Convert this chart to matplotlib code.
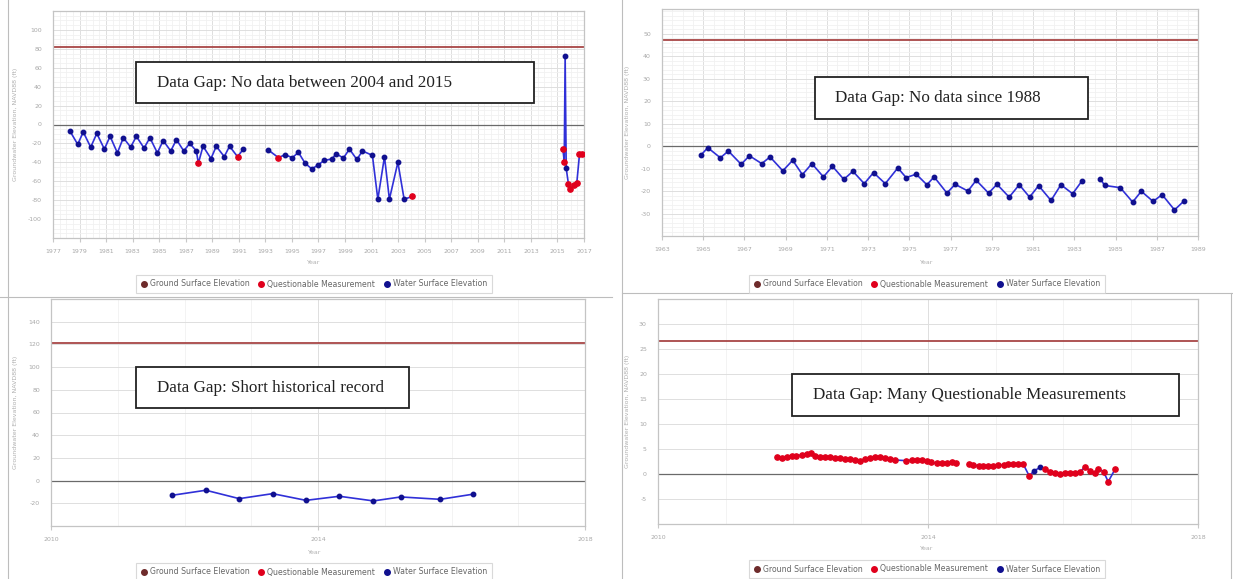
import matplotlib.pyplot as plt
from matplotlib.lines import Line2D
from matplotlib.patches import Rectangle
import numpy as np

plt.rcParams['axes.unicode_minus'] = False

# ---- top-left well: no data between 2004 and 2015 ----
p1_years = [1978.28, 1978.86, 1979.28, 1979.84, 1980.30, 1980.87, 1981.30, 1981.85, 1982.30, 1982.85,
            1983.28, 1983.86, 1984.30, 1984.86, 1985.30, 1985.87, 1986.30, 1986.85, 1987.30, 1987.80,
            1987.95, 1988.30, 1988.90, 1989.30, 1989.90, 1990.30, 1990.90, 1991.34, None,
            1993.22, 1993.98, 1994.48, 1995.03, 1995.49, 1995.99, 1996.50, 1997.00, 1997.42, 1998.00,
            1998.33, 1998.88, 1999.33, 1999.89, 2000.31, 2001.06, 2001.47, 2001.97, 2002.34, 2002.98,
            2003.45, 2004.08, None,
            2015.41, 2015.51, 2015.58, 2015.66, 2015.83, 2015.96, 2016.21, 2016.46, 2016.66, 2016.84]
p1_levels = [-7, -21, -8, -24, -9.5, -26, -12.5, -30, -14, -24,
             -12.5, -25, -14, -30, -17, -28, -16, -28, -20, -28,
             -41, -23, -36, -23, -34, -23, -34, -26, None,
             -27, -35, -32, -35, -29.5, -41, -47, -42.5, -38, -36.5,
             -31, -35.4, -26, -37, -28, -32.6, -79, -34, -79, -40,
             -79, -76, None,
             -25.6, -39.3, 71.9, -46.3, -63.2, -68.4, -63.9, -61.4, -31.6, -31.6]
# W = water surface elevation, Q = questionable measurement, - = gap
p1_quality = ('WWWWWWWWWWWWWWWWWWWWQWWWWWQW' + '-' +
              'WQWWWWWWWWWWWWWWWWWWWQ' + '-' +
              'QQWWQQQQQQ')
p1_ground = 82

# ---- top-right well: no data since 1988 ----
p2_years = [1964.89, 1965.22, 1965.83, 1966.22, 1966.84, 1967.24, 1967.84, 1968.24, 1968.86, 1969.34,
            1969.81, 1970.27, 1970.83, 1971.27, 1971.82, 1972.26, 1972.81, 1973.26, 1973.83, 1974.44,
            1974.84, 1975.33, 1975.85, 1976.20, 1976.82, 1977.22, 1977.84, 1978.24, 1978.84, 1979.25,
            1979.84, 1980.33, 1980.83, 1981.27, 1981.87, 1982.35, 1982.92, 1983.37, None,
            1984.26, 1984.47, 1985.23, 1985.83, 1986.25, 1986.82, 1987.26, 1987.86, 1988.30]
p2_levels = [-4.0, -0.7, -5.2, -2.2, -8.1, -4.3, -7.8, -4.8, -11.0, -6.3,
             -12.7, -7.8, -13.7, -9.0, -14.8, -11.2, -16.7, -11.8, -16.7, -9.7,
             -14.0, -12.5, -17.2, -13.7, -20.9, -17.0, -20.0, -15.2, -20.9, -17.0,
             -22.7, -17.2, -22.7, -17.6, -24.2, -17.2, -21.2, -15.5, None,
             -14.5, -17.5, -18.5, -24.9, -20.1, -24.6, -21.6, -28.4, -24.6]
p2_quality = None
p2_ground = 47

# ---- bottom-left well: short historical record ----
p3_years = [2011.82, 2012.32, 2012.82, 2013.32, 2013.82, 2014.32, 2014.83, 2015.24, 2015.83, 2016.32]
p3_levels = [-12.9, -8.5, -15.9, -11.5, -17.4, -13.8, -17.9, -14.4, -16.5, -12.0]
p3_quality = None
p3_ground = 121

# ---- bottom-right well: many questionable measurements ----
p4_years = [2011.76, 2011.83, 2011.91, 2011.98, 2012.05, 2012.13, 2012.20, 2012.26, 2012.33, 2012.40,
            2012.47, 2012.55, 2012.62, 2012.70, 2012.77, 2012.84, 2012.92, 2012.99, 2013.07, 2013.14,
            2013.21, 2013.29, 2013.36, 2013.44, 2013.51, 2013.68, 2013.76, 2013.83, 2013.91, 2013.98,
            2014.05, 2014.13, 2014.20, 2014.28, 2014.35, 2014.42, None,
            2014.60, 2014.67, 2014.75, 2014.82, 2014.89, 2014.97, 2015.04, 2015.12, 2015.19, 2015.26,
            2015.34, 2015.41, 2015.50, 2015.57, 2015.66, 2015.73, 2015.81, 2015.88, 2015.96, 2016.03,
            2016.10, 2016.18, 2016.25, 2016.33, 2016.40, 2016.47, 2016.52, 2016.60, 2016.67, 2016.77]
p4_levels = [3.47, 3.27, 3.33, 3.53, 3.67, 3.8, 3.93, 4.13, 3.6, 3.47,
             3.47, 3.33, 3.27, 3.13, 3.0, 2.93, 2.8, 2.67, 3.0, 3.13,
             3.33, 3.47, 3.27, 3.0, 2.8, 2.67, 2.8, 2.8, 2.73, 2.6,
             2.33, 2.13, 2.13, 2.27, 2.4, 2.13, None,
             2.0, 1.8, 1.67, 1.6, 1.6, 1.67, 1.73, 1.8, 1.93, 2.0,
             2.0, 2.0, -0.4, 0.6, 1.33, 0.93, 0.47, 0.27, -0.07, 0.13,
             0.27, 0.27, 0.4, 1.47, 0.67, 0.27, 1.07, 0.47, -1.53, 0.93]
p4_quality = ('QQQQQQQQQQQQQQQQQQQQQQQQQQQQQQQQQQQQ' + '-' +
              'QQQQQQQQQQQQQ' + 'WW' + 'QQQQQQQQQQQQQQQ')
p4_ground = 26.6

legend_labels = ['Ground Surface Elevation', 'Questionable Measurement', 'Water Surface Elevation']
notes = ['Data Gap: No data between 2004 and 2015',
         'Data Gap: No data since 1988',
         'Data Gap: Short historical record',
         'Data Gap: Many Questionable Measurements']

W, H = 1233, 579
fig = plt.figure(figsize=(W / 100, H / 100), dpi=100)

line_blue = '#3030d8'
dot_blue = '#10108f'
q_red = '#e0001c'
ground_red = '#a84646'
gse_dot = '#6e2b2b'


def fx(x):
    return x / W


def fy(y):
    return 1 - y / H


def panel(box, years, levels, quality, ground, ylim, yticks, yminor,
          xlim, xticks, xlabels, xminor, note, note_box, note_x,
          year_xy, legend_xy, ylabel_x):
    l, t, r, b = box
    ax = fig.add_axes([fx(l), fy(b), fx(r - l), (b - t) / H])
    yrs = np.array([np.nan if v is None else v for v in years], dtype=float)
    lv = np.array([np.nan if v is None else v for v in levels], dtype=float)
    if quality is None:
        quality = ''.join('-' if v is None else 'W' for v in years)
    assert len(quality) == len(yrs)
    q = np.array(list(quality))

    ax.axhline(ground, color=ground_red, lw=1.3, zorder=2)
    ax.axhline(0, color='#6a6a6a', lw=0.9, zorder=2)
    ax.plot(yrs, lv, color=line_blue, lw=1.2, zorder=3)
    ax.plot(yrs[q == 'W'], lv[q == 'W'], 'o', ms=3.2, color=dot_blue, zorder=4)
    ax.plot(yrs[q == 'Q'], lv[q == 'Q'], 'o', ms=3.8, color=q_red, zorder=5)

    ax.set_xlim(*xlim)
    ax.set_ylim(*ylim)
    ax.set_yticks(yticks)
    ax.set_yticks(yminor, minor=True)
    ax.set_xticks(xticks)
    ax.set_xticklabels(xlabels)
    ax.set_xticks(xminor, minor=True)
    ax.grid(which='minor', color='#f1f1f1', lw=0.6)
    ax.grid(which='major', color='#dedede', lw=0.7)
    ax.set_axisbelow(True)
    ax.tick_params(axis='y', which='both', length=0, pad=8, labelsize=4.5, labelcolor='#a8a8a8')
    ax.tick_params(axis='x', which='major', length=3, color='#c8c8c8', pad=5,
                   labelsize=4.5, labelcolor='#a8a8a8')
    ax.tick_params(axis='x', which='minor', length=0)
    for s in ax.spines.values():
        s.set_color('#c4c4c4')
        s.set_linewidth(0.9)

    fig.text(fx(ylabel_x), fy((t + b) / 2), 'Groundwater Elevation, NAVD88 (ft)', rotation=90,
             ha='center', va='center', fontsize=4.5, color='#b0b0b0')
    fig.text(fx(year_xy[0]), fy(year_xy[1]), 'Year', ha='center', va='center',
             fontsize=4.5, color='#b0b0b0')

    # the annotation box drawn over the chart
    bl, bt, br, bb = note_box
    fig.patches.append(Rectangle((fx(bl), fy(bb)), fx(br - bl), (bb - bt) / H,
                                 transform=fig.transFigure, facecolor='white',
                                 edgecolor='#222222', lw=1.3, zorder=10))
    fig.text(fx(note_x), fy((bt + bb) / 2), note, ha='left', va='center',
             family='Liberation Serif', fontsize=12.3, color='#222222', zorder=11)

    handles = [Line2D([], [], marker='o', ls='', ms=4, color=c)
               for c in [gse_dot, q_red, dot_blue]]
    lg = fig.legend(handles, legend_labels, loc='center', ncol=3,
                    bbox_to_anchor=(fx(legend_xy[0]), fy(legend_xy[1])),
                    fontsize=5.6, frameon=True, fancybox=False, edgecolor='#d0d0d0',
                    handlelength=0.8, handletextpad=0.35, columnspacing=1.1,
                    borderpad=0.6, labelcolor='#666666')
    lg.get_frame().set_linewidth(0.8)
    return ax


panel((53, 11, 584, 238), p1_years, p1_levels, p1_quality, p1_ground,
      (-120, 120), list(range(-100, 101, 20)), list(range(-120, 121, 5)),
      (1977, 2017), list(range(1977, 2018, 2)), [str(v) for v in range(1977, 2018, 2)],
      list(np.arange(1977, 2017.1, 0.5)),
      notes[0], (136, 62, 534, 103), 157, (314, 263), (314, 284), 15)

panel((662, 9, 1198, 236), p2_years, p2_levels, p2_quality, p2_ground,
      (-40, 61), list(range(-30, 51, 10)), list(range(-40, 61, 2)),
      (1963, 1989), list(range(1963, 1990, 2)), [str(v) for v in range(1963, 1990, 2)],
      list(np.arange(1963, 1989.1, 0.5)),
      notes[1], (815, 77, 1088, 119), 835, (927, 262), (927, 284), 627)

panel((51, 299, 585, 526), p3_years, p3_levels, p3_quality, p3_ground,
      (-40, 160), list(range(-20, 141, 20)), [],
      (2010, 2018), [2010, 2014, 2018], ['2010', '2014', '2018'],
      list(range(2010, 2019)),
      notes[2], (136, 367, 409, 408), 157, (315, 552), (314, 572), 15)

panel((658, 299, 1198, 524), p4_years, p4_levels, p4_quality, p4_ground,
      (-10, 35), list(range(-5, 31, 5)), [],
      (2010, 2018), [2010, 2014, 2018], ['2010', '2014', '2018'],
      list(range(2010, 2019)),
      notes[3], (792, 374, 1179, 416), 813, (927, 548), (927, 569), 627)

# screenshot borders between the four panels
border = '#bdbdbd'
fig.add_artist(Line2D([fx(8), fx(8)], [0, 1], color=border, lw=0.8))
fig.add_artist(Line2D([fx(622), fx(622)], [0, 1], color=border, lw=0.8))
fig.add_artist(Line2D([0, fx(612)], [fy(297), fy(297)], color=border, lw=0.8))
fig.add_artist(Line2D([fx(622), 1], [fy(293), fy(293)], color=border, lw=0.8))
fig.add_artist(Line2D([fx(1231), fx(1231)], [0, fy(293)], color=border, lw=0.8))

plt.savefig('out.png', dpi=100)
